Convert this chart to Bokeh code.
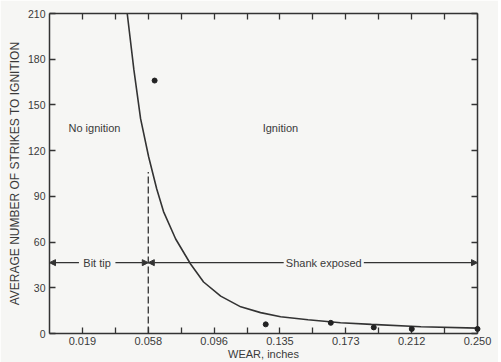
from bokeh.plotting import figure
from bokeh.models import (LinearAxis, FixedTicker, Arrow, NormalHead, Label, Range1d)
from bokeh.embed import file_html
from bokeh.resources import INLINE

# ---- data ----
curve_x = [0.0454, 0.0493, 0.0532, 0.0579, 0.0626, 0.0666, 0.0737, 0.0824, 0.0900,
           0.1000, 0.1117, 0.1233, 0.1350, 0.1510, 0.1700, 0.1880, 0.2170, 0.2500]
curve_y = [210, 173, 141, 116, 95, 80, 62, 45.6, 33.8,
           24.5, 17.5, 13.7, 11.0, 9.0, 7.1, 6.0, 4.4, 3.5]

point_x = [0.0614, 0.1263, 0.1643, 0.1894, 0.2116, 0.2500]
point_y = [166, 6.0, 7.0, 4.0, 3.0, 3.0]

x_ticks_labeled = [0.01923, 0.05769, 0.09615, 0.13462, 0.17308, 0.21154, 0.25]
x_tick_labels = ["0.019", "0.058", "0.096", "0.135", "0.173", "0.212", "0.250"]
x_ticks_unlabeled = [0.03846, 0.07692, 0.11538, 0.15385, 0.19231, 0.23077]
y_ticks = [0, 30, 60, 90, 120, 150, 180, 210]

bit_shank_boundary = 0.0577   # wear where the shank becomes exposed
dashed_top = 106
arrow_level = 46.5

INK = "#333333"
TXT = "#3a3a3a"
BG = "#f6f6f4"
FONT = "Liberation Sans"

p = figure(width=498, height=362, x_range=Range1d(0, 0.25), y_range=Range1d(0, 210),
           output_backend="svg", toolbar_location=None,
           min_border_left=49, min_border_right=21, min_border_top=13, min_border_bottom=28)
p.background_fill_color = BG
p.border_fill_color = BG
p.outline_line_color = None
p.grid.visible = False

def style_axis(ax, ticks, minor=(), show_labels=True):
    ax.ticker = FixedTicker(ticks=ticks, minor_ticks=list(minor))
    ax.axis_line_color = INK
    ax.axis_line_width = 1.5
    ax.major_tick_line_color = INK
    ax.major_tick_line_width = 1.3
    ax.major_tick_in = 6
    ax.major_tick_out = 0
    ax.minor_tick_line_color = INK
    ax.minor_tick_line_width = 1.3
    ax.minor_tick_in = 6
    ax.minor_tick_out = 0
    ax.major_label_text_color = TXT
    ax.major_label_text_font = FONT
    if not show_labels:
        ax.major_label_text_color = None
        ax.major_label_text_font_size = "1px"
        ax.major_label_standoff = 0

xa = p.xaxis[0]
style_axis(xa, x_ticks_labeled, x_ticks_unlabeled)
xa.major_label_overrides = {t: l for t, l in zip(x_ticks_labeled, x_tick_labels)}
xa.major_label_text_font_size = "11px"
xa.major_label_standoff = 3
xa.axis_label = "WEAR, inches"
xa.axis_label_text_font = FONT
xa.axis_label_text_font_style = "normal"
xa.axis_label_text_font_size = "11px"
xa.axis_label_text_color = TXT
xa.axis_label_standoff = 0

ya = p.yaxis[0]
style_axis(ya, y_ticks)
ya.major_label_text_font_size = "10.5px"
ya.major_label_standoff = 4
ya.axis_label = "AVERAGE NUMBER OF STRIKES TO IGNITION"
ya.axis_label_text_font = FONT
ya.axis_label_text_font_style = "normal"
ya.axis_label_text_font_size = "12px"
ya.axis_label_text_color = TXT
ya.axis_label_standoff = 3

top = LinearAxis()
style_axis(top, x_ticks_labeled, x_ticks_unlabeled, show_labels=False)
p.add_layout(top, "above")
right = LinearAxis()
style_axis(right, y_ticks, show_labels=False)
p.add_layout(right, "right")

# curve and points
p.line(curve_x, curve_y, line_color=INK, line_width=1.6)
p.scatter(point_x, point_y, size=5, color="#222222", level="overlay")

# dashed boundary
p.line([bit_shank_boundary, bit_shank_boundary], [0, dashed_top],
       line_color=INK, line_width=1.3, line_dash="7 3")

# arrows
def arrow(x0, x1):
    p.add_layout(Arrow(x_start=x0, y_start=arrow_level, x_end=x1, y_end=arrow_level,
                       line_color=INK, line_width=1.1,
                       end=NormalHead(size=6, fill_color=INK, line_color=INK)))

arrow(0.0172, 0.0)
arrow(0.0385, bit_shank_boundary)
arrow(0.1368, bit_shank_boundary)
arrow(0.1836, 0.25)

def label(x, y, text, align="center"):
    p.add_layout(Label(x=x, y=y, text=text, text_font=FONT, text_font_size="11px",
                       text_color=TXT, text_align=align, text_baseline="middle"))

label(0.0278, arrow_level, "Bit tip")
label(0.1602, arrow_level, "Shank exposed")
label(0.0111, 135, "No ignition", "left")
label(0.1245, 135, "Ignition", "left")

open("out.html", "w").write(file_html(p, INLINE))
